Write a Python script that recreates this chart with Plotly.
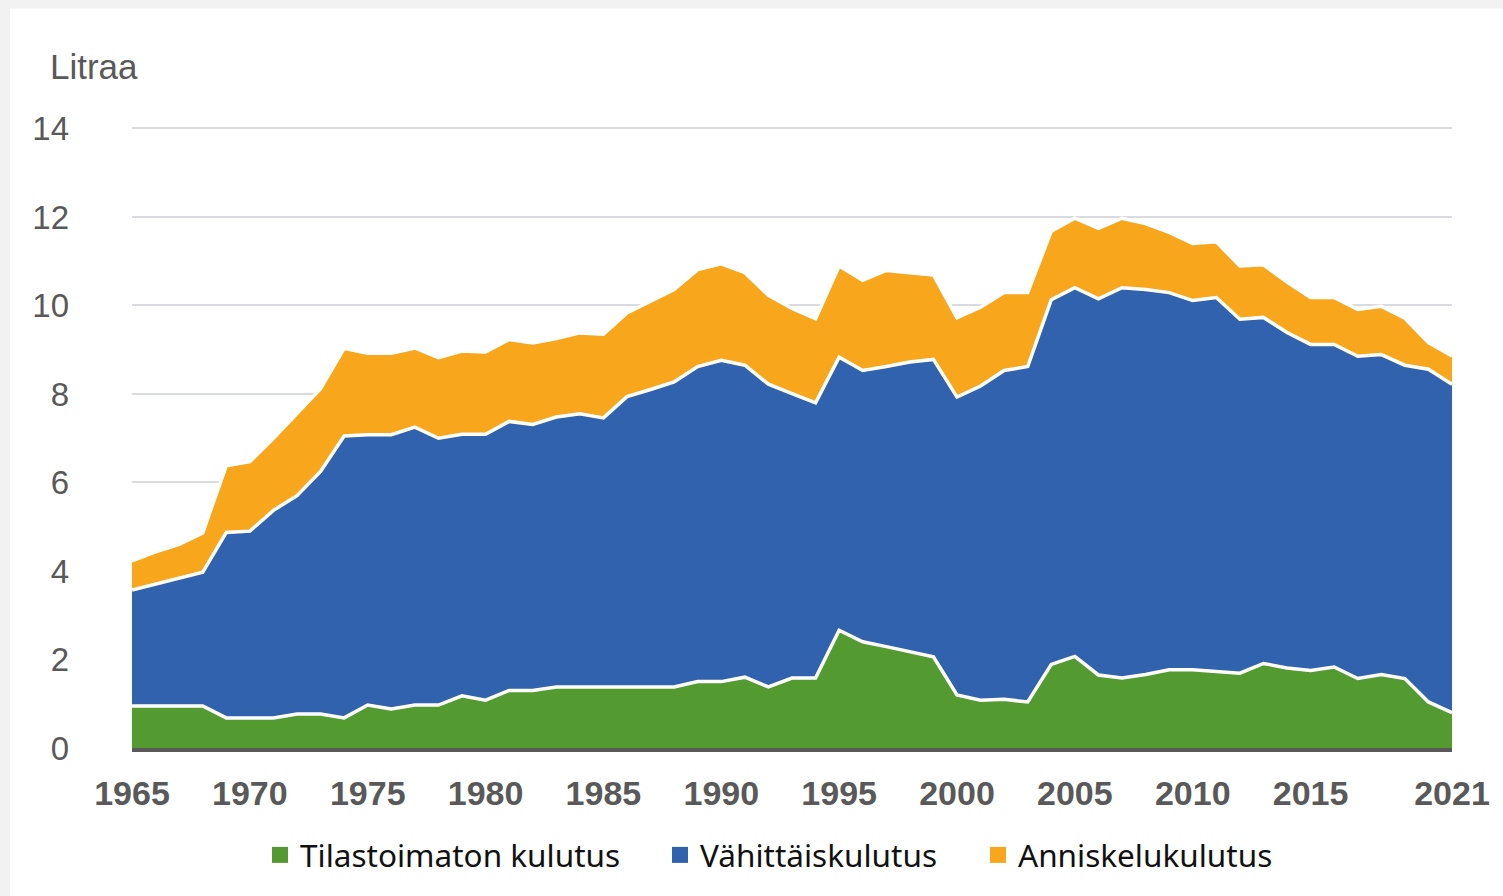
import plotly.graph_objects as go

years = list(range(1965, 2022))

# Tilastoimaton kulutus (bottom layer)
tilastoimaton = [0.95, 0.95, 0.95, 0.95, 0.68, 0.68, 0.68, 0.77, 0.77, 0.68,
                 0.97, 0.88, 0.97, 0.97, 1.18, 1.08, 1.30, 1.30, 1.38, 1.38,
                 1.38, 1.38, 1.38, 1.38, 1.50, 1.50, 1.60, 1.38, 1.58, 1.58,
                 2.66, 2.40, 2.29, 2.17, 2.06, 1.20, 1.08, 1.10, 1.04, 1.89,
                 2.07, 1.65, 1.58, 1.66, 1.77, 1.77, 1.73, 1.69, 1.91, 1.81,
                 1.75, 1.83, 1.57, 1.66, 1.57, 1.04, 0.80]

# cumulative top of the retail layer
vahittais_top = [3.57, 3.71, 3.84, 3.97, 4.87, 4.90, 5.37, 5.70, 6.25, 7.05,
                 7.08, 7.08, 7.25, 7.00, 7.09, 7.09, 7.38, 7.31, 7.48, 7.55,
                 7.46, 7.94, 8.10, 8.27, 8.62, 8.76, 8.65, 8.22, 8.01, 7.80,
                 8.83, 8.53, 8.62, 8.72, 8.78, 7.93, 8.18, 8.53, 8.62, 10.13,
                 10.40, 10.15, 10.40, 10.36, 10.29, 10.11, 10.18, 9.69, 9.73, 9.39,
                 9.12, 9.12, 8.85, 8.89, 8.65, 8.56, 8.22]

# cumulative total (top of the on-premise layer)
total_top = [4.23, 4.43, 4.60, 4.86, 6.38, 6.47, 7.00, 7.56, 8.12, 9.03,
             8.92, 8.92, 9.04, 8.82, 8.97, 8.95, 9.23, 9.15, 9.25, 9.38,
             9.35, 9.83, 10.10, 10.36, 10.81, 10.94, 10.74, 10.23, 9.93, 9.70,
             10.89, 10.57, 10.79, 10.73, 10.69, 9.72, 9.96, 10.29, 10.29, 11.68,
             11.97, 11.74, 11.97, 11.85, 11.65, 11.40, 11.44, 10.89, 10.92, 10.53,
             10.18, 10.18, 9.91, 9.98, 9.71, 9.16, 8.86]

vahittais = [round(b - g, 2) for b, g in zip(vahittais_top, tilastoimaton)]
anniskelu = [round(t - b, 2) for t, b in zip(total_top, vahittais_top)]

series_names = ["Tilastoimaton kulutus", "Vähittäiskulutus", "Anniskelukulutus"]
series_values = [tilastoimaton, vahittais, anniskelu]
colors = ["#539b31", "#3162ad", "#f8a61c"]

tick_years = [1965, 1970, 1975, 1980, 1985, 1990, 1995, 2000, 2005, 2010, 2015, 2021]
y_ticks = [0, 2, 4, 6, 8, 10, 12, 14]

W, H = 1503, 896
Y_TOP = 14.1
L, R, B = 132, 51, 148
px_per_unit = (748 - 128) / 14.0
T = 748 - px_per_unit * Y_TOP
pw, ph = W - L - R, H - T - B

fig = go.Figure()
for name, vals, col in zip(series_names, series_values, colors):
    fig.add_trace(go.Scatter(
        x=years, y=vals, name=name, mode="lines", stackgroup="one",
        line=dict(color="white", width=3.5), fillcolor=col,
        showlegend=False, hoverinfo="x+y+name"))

legend_left_px = [260, 660, 978]
legend_keys = ["legend", "legend2", "legend3"]
for name, col, key in zip(series_names, colors, legend_keys):
    fig.add_trace(go.Scatter(
        x=[None], y=[None], name=name, mode="markers",
        marker=dict(symbol="square", size=16, color=col),
        showlegend=True, legend=key))

def px_to_paper_x(px):
    return (px - L) / pw

def px_to_paper_y(py):
    return (H - B - py) / ph

leg_common = dict(orientation="h", yanchor="middle", xanchor="left",
                  font=dict(family="Noto Sans", size=31.5, color="#111111"),
                  bgcolor="rgba(0,0,0,0)", borderwidth=0)

fig.update_layout(
    width=W, height=H,
    margin=dict(l=L, r=R, t=T, b=B),
    paper_bgcolor="#f2f2f2",
    plot_bgcolor="white",
    font=dict(family="Liberation Sans, Arial", color="#595959"),
    legend=dict(x=px_to_paper_x(legend_left_px[0]), y=px_to_paper_y(855), **leg_common),
    legend2=dict(x=px_to_paper_x(legend_left_px[1]), y=px_to_paper_y(855), **leg_common),
    legend3=dict(x=px_to_paper_x(legend_left_px[2]), y=px_to_paper_y(855), **leg_common),
    xaxis=dict(range=[1965, 2021], tickvals=tick_years,
               ticktext=[str(t) for t in tick_years],
               tickfont=dict(family="Liberation Sans, Arial", size=34, color="#595959",
                             weight="bold"),
               showgrid=False, zeroline=False,
               showline=True, linecolor="#595959", linewidth=4,
               ticks="", ticklabelstandoff=12),
    yaxis=dict(range=[0, Y_TOP], tickvals=y_ticks,
               tickfont=dict(family="Liberation Sans, Arial", size=33, color="#595959"),
               showgrid=True, gridcolor="#d9dbdf", gridwidth=2,
               zeroline=False, showline=False, ticks="",
               ticklabelstandoff=62),
    shapes=[dict(type="rect", xref="paper", yref="paper",
                 x0=px_to_paper_x(10), x1=px_to_paper_x(W + 5),
                 y0=px_to_paper_y(H + 5), y1=px_to_paper_y(8),
                 fillcolor="white", line=dict(width=0), layer="below")],
    annotations=[dict(text="Litraa", xref="paper", yref="paper",
                      x=px_to_paper_x(48), y=px_to_paper_y(66),
                      xanchor="left", yanchor="middle", showarrow=False,
                      font=dict(family="Liberation Sans, Arial", size=35, color="#595959"))],
)

fig.write_html("out.html",
               config={"displayModeBar": False},
               post_script="document.body.style.margin='0';document.body.style.background='#f2f2f2';")
